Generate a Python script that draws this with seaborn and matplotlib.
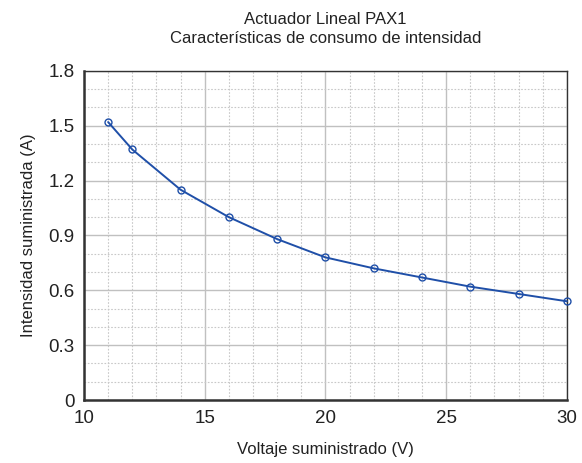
import numpy as np
import pandas as pd
import matplotlib
matplotlib.use("Agg")
import matplotlib.pyplot as plt
import seaborn as sns
from matplotlib.ticker import MultipleLocator, FuncFormatter

voltaje = [11, 12, 14, 16, 18, 20, 22, 24, 26, 28, 30]
intensidad = [1.52, 1.37, 1.15, 1.00, 0.88, 0.78, 0.72, 0.67, 0.62, 0.58, 0.54]

df = pd.DataFrame({"voltaje": voltaje, "intensidad": intensidad})

sns.set_style("white")
plt.rcParams['font.family'] = ['Liberation Sans', 'DejaVu Sans']

fig = plt.figure(figsize=(5.82, 4.63), dpi=100)
ax = fig.add_axes([0.1443, 0.136, 0.8297, 0.711])

sns.lineplot(data=df, x="voltaje", y="intensidad", ax=ax, color="#1f4fa8",
             linewidth=1.4, marker="o", markersize=5, markerfacecolor="none",
             markeredgecolor="#1f4fa8", markeredgewidth=1.0, clip_on=False, zorder=5)

ax.set_xlim(10, 30)
ax.set_ylim(0, 1.8)
ax.xaxis.set_major_locator(MultipleLocator(5))
ax.xaxis.set_minor_locator(MultipleLocator(1))
ax.yaxis.set_major_locator(MultipleLocator(0.3))
ax.yaxis.set_minor_locator(MultipleLocator(0.1))
ax.xaxis.set_major_formatter(FuncFormatter(lambda v, p: f"{v:g}"))
ax.yaxis.set_major_formatter(FuncFormatter(lambda v, p: f"{round(v, 1):g}"))

ax.grid(True, which="major", color="#c0c0c0", linewidth=1.0, linestyle="-")
ax.grid(True, which="minor", color="#c8c8c8", linewidth=0.8, linestyle=(0, (1.5, 1.5)))
ax.set_axisbelow(True)

for s in ax.spines.values():
    s.set_visible(True)
    s.set_color("#333333")
    s.set_linewidth(1.0)
ax.spines["left"].set_linewidth(1.8)
ax.spines["bottom"].set_linewidth(1.8)

ax.tick_params(axis="both", which="both", length=0, labelsize=13.5, colors="#222222")
ax.tick_params(axis="x", pad=7)
ax.tick_params(axis="y", pad=7)

ax.set_xlabel("Voltaje suministrado (V)", fontsize=12, color="#222222", labelpad=11)
ax.set_ylabel("Intensidad suministrada (A)", fontsize=12, color="#222222", labelpad=9)
ax.set_title("Actuador Lineal PAX1\nCaracterísticas de consumo de intensidad",
             fontsize=12, color="#222222", pad=20, linespacing=1.3)

fig.savefig("out.png", dpi=100)
